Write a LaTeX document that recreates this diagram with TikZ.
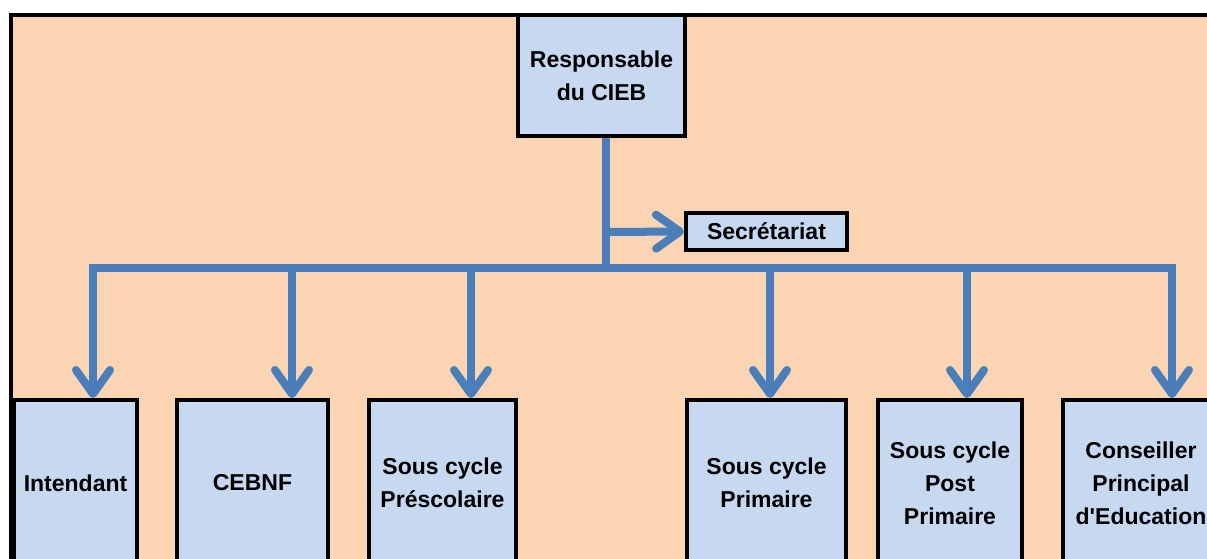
\documentclass[tikz,border=0pt]{standalone}
\usepackage{fontspec}
\setmainfont{Liberation Sans}
\usetikzlibrary{arrows.meta,calc}
\definecolor{peach}{HTML}{FBD4B4}
\definecolor{paleblue}{HTML}{C6D9F1}
\definecolor{linkblue}{HTML}{4A7EBB}

\begin{document}
\begin{tikzpicture}[x=1pt,y=-1pt,
  box/.style={draw=black, line width=4pt, fill=paleblue, align=center,
    inner sep=0pt, font=\fontsize{23}{33}\selectfont\bfseries},
  link/.style={draw=linkblue, line width=8pt},
  arrowlink/.style={link, -{Straight Barb[length=24pt,width=34pt,round]}},
]
\useasboundingbox (0,0) rectangle (1207,558);
\clip (0,0) rectangle (1207,558);
\fill[white] (0,0) rectangle (1207,558);
% outer frame
\draw[fill=peach, line width=4pt] (10.5,14.5) rectangle (1240,600);

% head and secretariat
\node[box, minimum width=167pt, minimum height=121pt] (resp) at (601.5,75.5) {Responsable\\du CIEB};
\node[box, minimum width=161pt, minimum height=37pt] (sec) at (766.5,231.5) {Secrétariat};

% units
\node[box, minimum width=123pt, minimum height=166pt] (int) at (75.5,483) {Intendant};
\node[box, minimum width=151pt, minimum height=166pt] (ceb) at (252.5,483) {CEBNF};
\node[box, minimum width=147pt, minimum height=166pt] (pre) at (442.5,483) {Sous cycle\\Préscolaire};
\node[box, minimum width=159pt, minimum height=166pt] (pri) at (766.5,483) {Sous cycle\\Primaire};
\node[box, minimum width=144pt, minimum height=166pt] (post) at (950,483) {Sous cycle\\Post\\Primaire};
\node[box, minimum width=156pt, minimum height=166pt] (cpe) at (1141,483) {Conseiller\\Principal\\d\textquotesingle Education};

% connectors
\coordinate (j) at (606,268);
\coordinate (s0) at (606,232);
\coordinate (b1) at (93,268);
\coordinate (b2) at (292,268);
\coordinate (b3) at (471,268);
\coordinate (b4) at (770,268);
\coordinate (b5) at (967,268);
\coordinate (b6) at (1172,268);

\draw[link] (j |- resp.south) -- (j);
\draw[arrowlink] (s0) -- (sec.west);
\draw[link, line cap=rect] (b1) -- (b6);
\draw[arrowlink] (b1) -- (b1 |- int.north);
\draw[arrowlink] (b2) -- (b2 |- ceb.north);
\draw[arrowlink] (b3) -- (b3 |- pre.north);
\draw[arrowlink] (b4) -- (b4 |- pri.north);
\draw[arrowlink] (b5) -- (b5 |- post.north);
\draw[arrowlink] (b6) -- (b6 |- cpe.north);
\end{tikzpicture}
\end{document}
